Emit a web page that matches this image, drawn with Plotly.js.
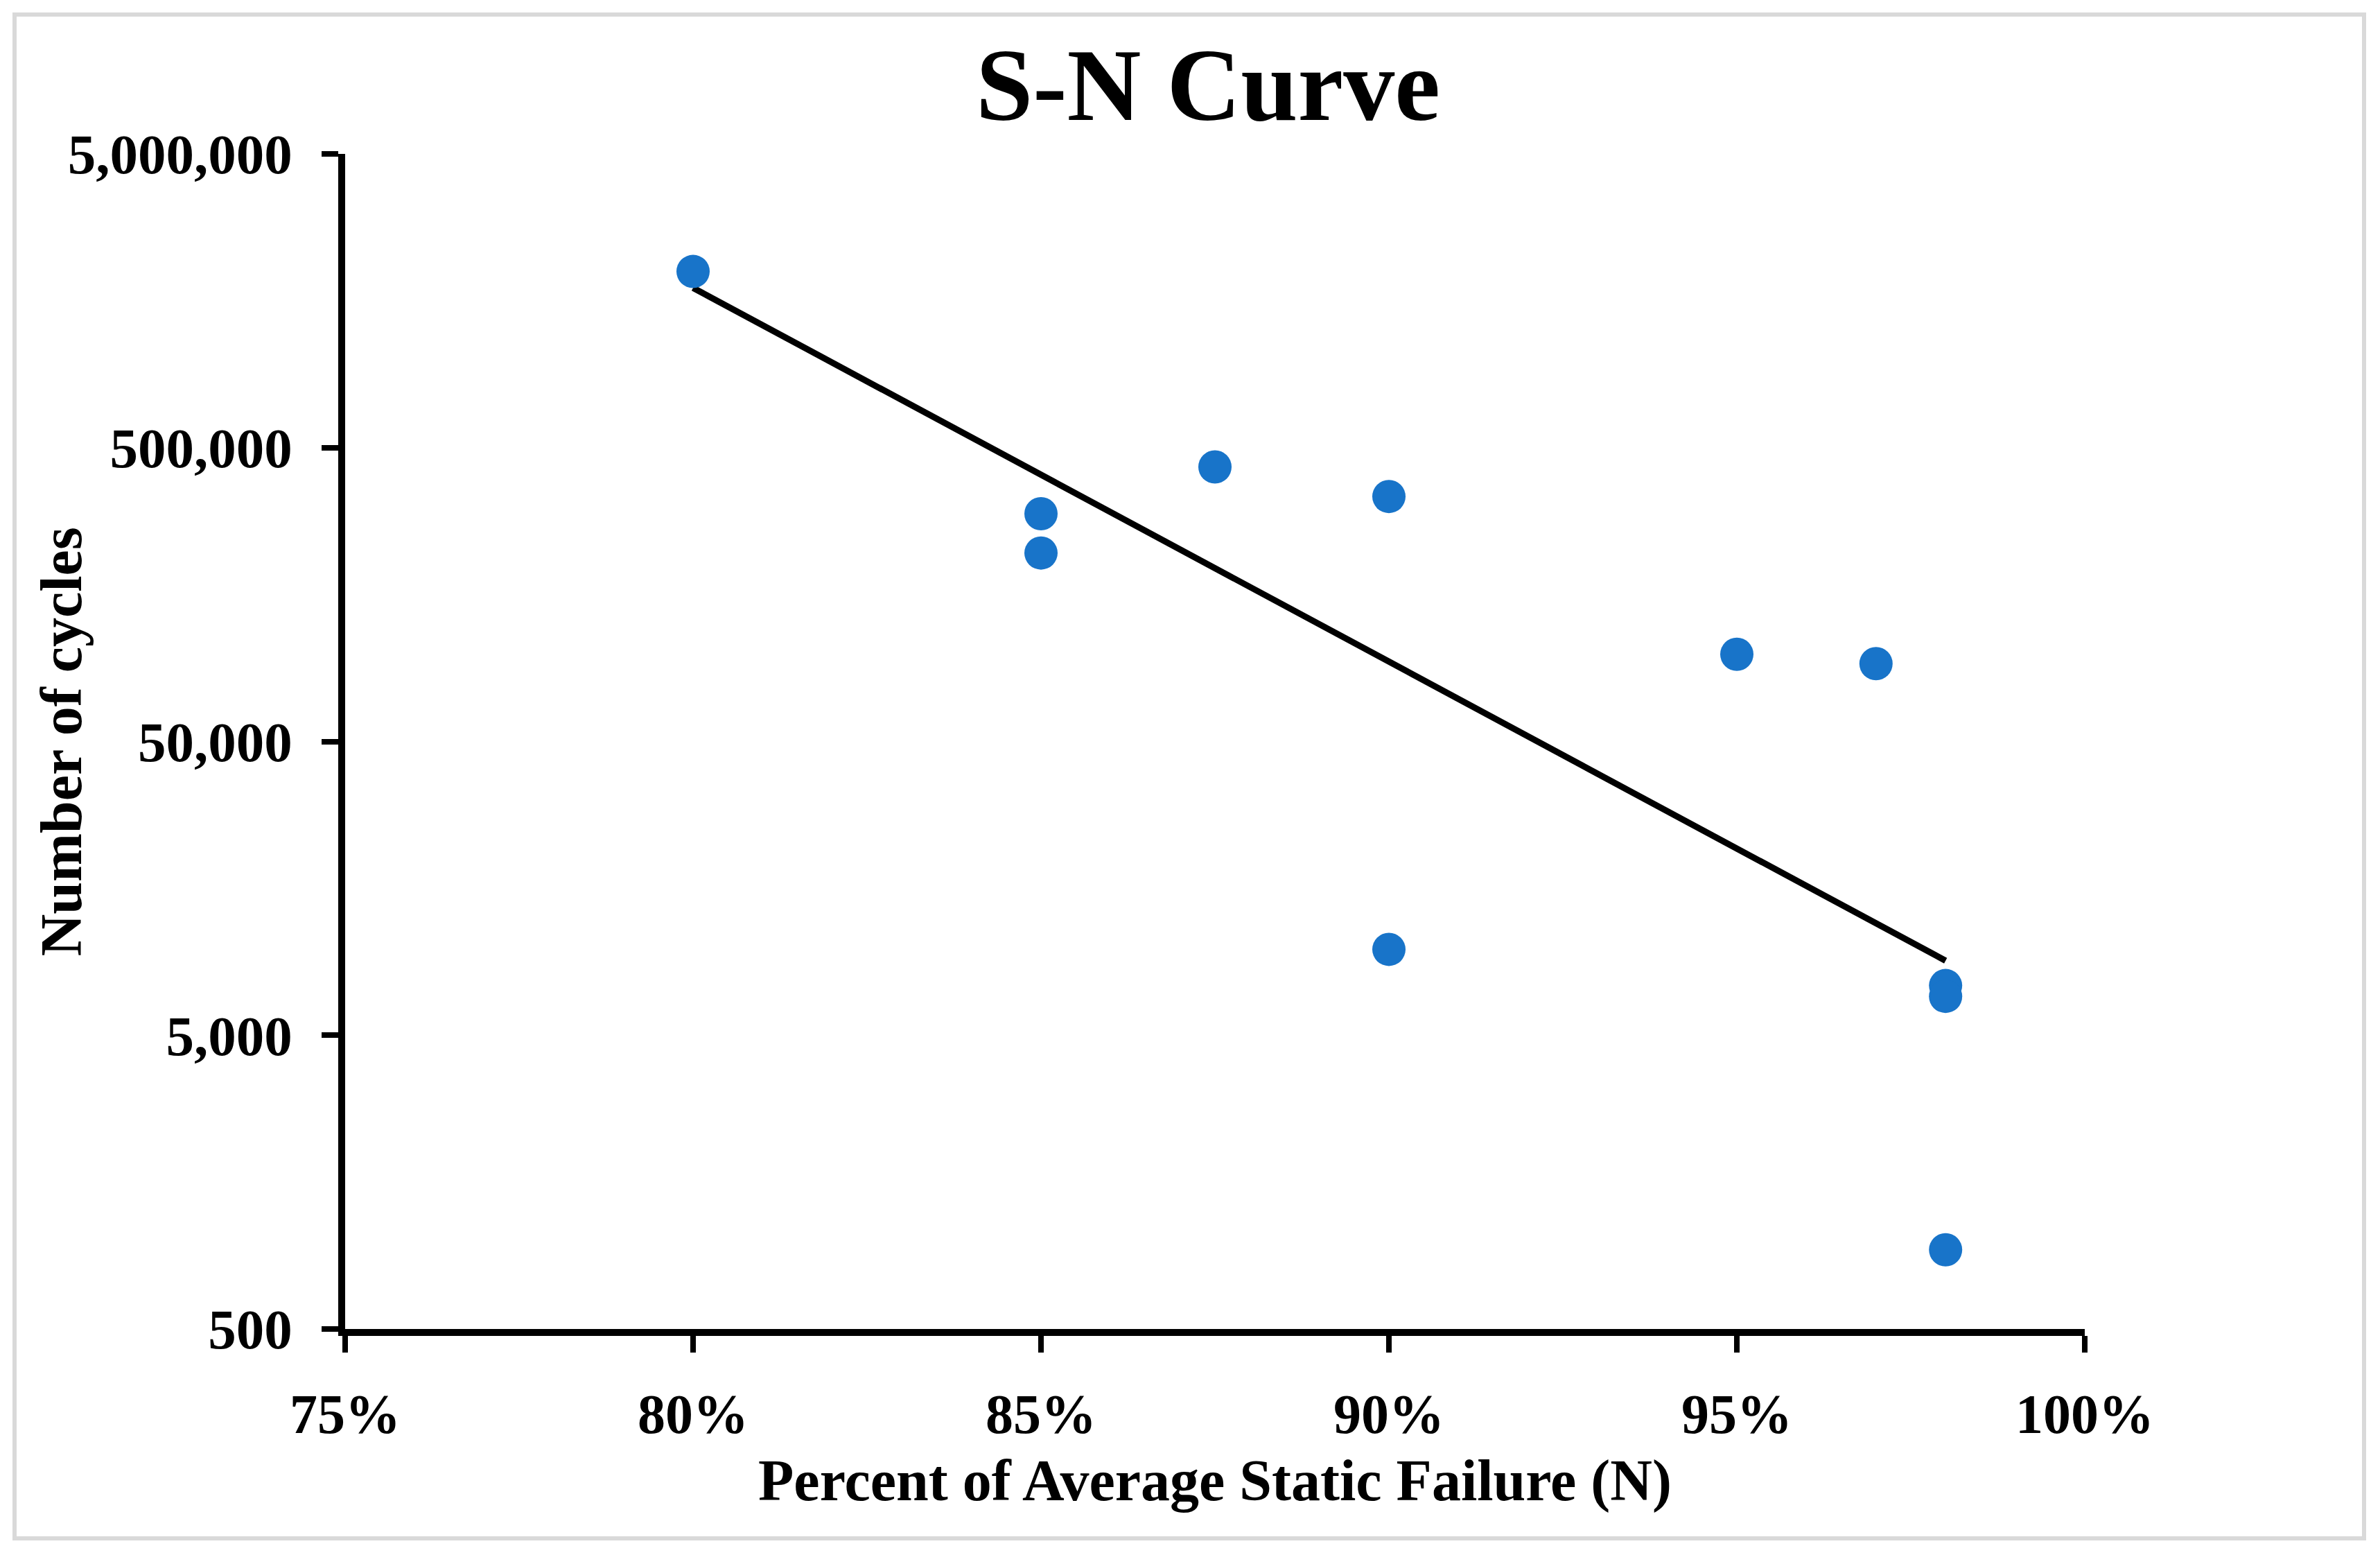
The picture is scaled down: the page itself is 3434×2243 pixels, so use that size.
<!DOCTYPE html>
<html>
<head>
<meta charset="utf-8">
<script src="https://cdn.plot.ly/plotly-3.0.1.min.js"></script>
<style>
  html, body { margin: 0; padding: 0; background: #ffffff; }
  #wrap { position: relative; width: 3434px; height: 2243px; }
  #chart { position: absolute; left: 0; top: 0; width: 3434px; height: 2243px; }
  #frame { position: absolute; left: 18px; top: 18px; width: 3384px; height: 2192px;
           border: 6px solid #d9d9d9; pointer-events: none; }
</style>
</head>
<body>
<div id="wrap">
  <div id="chart"></div>
  <div id="frame"></div>
</div>
<script>
// Percent of average static failure (fraction)
const loadFraction = [0.80, 0.85, 0.85, 0.875, 0.90, 0.90, 0.95, 0.97, 0.98, 0.98, 0.98];
// Number of cycles to failure
const cycles = [1990000, 298000, 219000, 430000, 341000, 9800, 99000, 92000, 7380, 6780, 930];

// Exponential trendline end values
const trendX = [0.80, 0.98];
const trendY = [1750000, 8970];

const yTickVals = [500, 5000, 50000, 500000, 5000000];
const yTickText = ["500", "5,000", "50,000", "500,000", "5,000,000"];
const xTickVals = [0.75, 0.80, 0.85, 0.90, 0.95, 1.00];
const xTickText = ["75%", "80%", "85%", "90%", "95%", "100%"];

const font = { family: "Liberation Serif, Times New Roman, serif", color: "#000000", weight: "bold" };

const traces = [
  {
    x: trendX, y: trendY, type: "scatter", mode: "lines",
    line: { color: "#000000", width: 9 },
    hoverinfo: "skip", showlegend: false
  },
  {
    x: loadFraction, y: cycles, type: "scatter", mode: "markers",
    marker: { color: "#1874C9", size: 48, line: { width: 0 } },
    showlegend: false
  }
];

const layout = {
  width: 3434, height: 2243,
  paper_bgcolor: "#ffffff", plot_bgcolor: "#ffffff",
  margin: { l: 498, r: 426, t: 222, b: 326, pad: 0 },
  showlegend: false,
  title: {
    text: "S-N Curve",
    font: Object.assign({}, font, { size: 148 }),
    x: 0.496, xref: "paper", xanchor: "center",
    y: 0.946, yref: "container", yanchor: "middle"
  },
  xaxis: {
    type: "linear", range: [0.75, 1.0], autorange: false,
    tickvals: xTickVals, ticktext: xTickText,
    showgrid: false, zeroline: false,
    showline: true, linecolor: "#000000", linewidth: 10,
    ticks: "outside", ticklen: 24, tickwidth: 8, tickcolor: "#000000",
    tickfont: Object.assign({}, font, { size: 80 }),
    ticklabelstandoff: 20,
    title: { text: "Percent of Average Static Failure (N)", font: Object.assign({}, font, { size: 84 }), standoff: 26 }
  },
  yaxis: {
    type: "log", range: [Math.log10(500), Math.log10(5000000)], autorange: false,
    tickvals: yTickVals, ticktext: yTickText,
    showgrid: false, zeroline: false,
    showline: true, linecolor: "#000000", linewidth: 10,
    ticks: "outside", ticklen: 24, tickwidth: 8, tickcolor: "#000000",
    tickfont: Object.assign({}, font, { size: 81 }),
    ticklabelstandoff: 26
  },
  annotations: [
    {
      text: "Number of cycles",
      font: Object.assign({}, font, { size: 84 }),
      textangle: -90, showarrow: false,
      xref: "paper", x: -0.163, xanchor: "center",
      yref: "paper", y: 0.5, yanchor: "middle"
    }
  ]
};

Plotly.newPlot("chart", traces, layout, { displayModeBar: false, staticPlot: true });
</script>
</body>
</html>
